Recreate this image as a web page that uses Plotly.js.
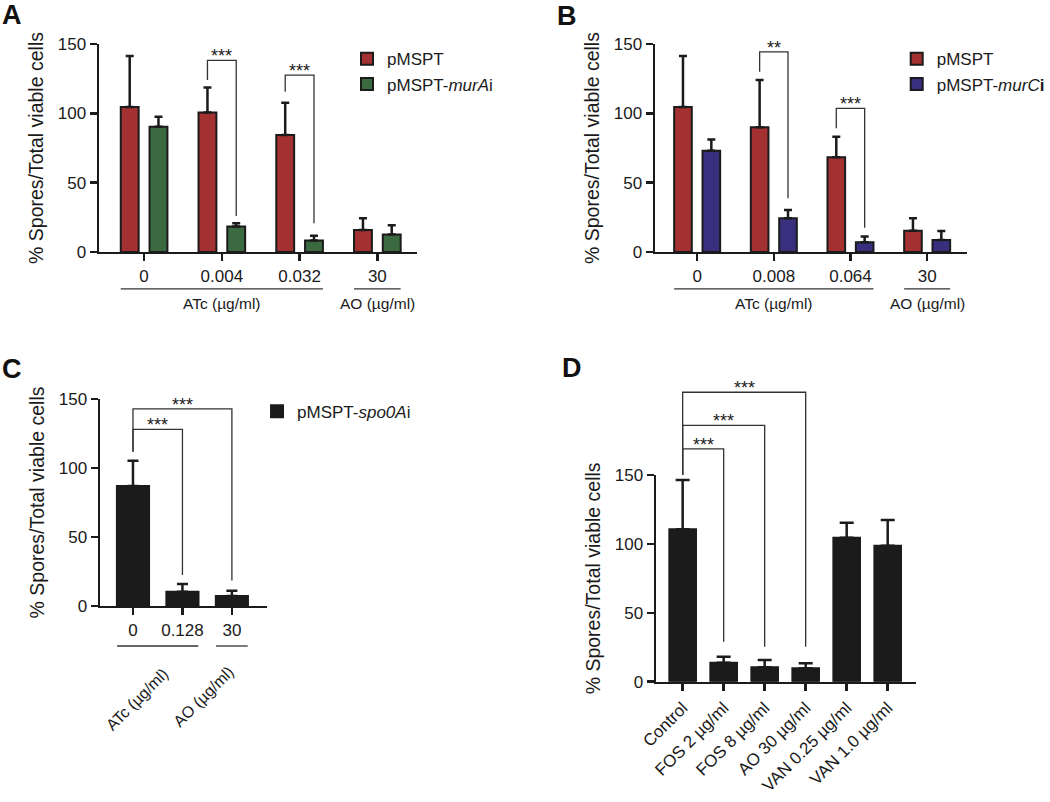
<!DOCTYPE html>
<html>
<head>
<meta charset="utf-8">
<script src="https://cdn.plot.ly/plotly-3.0.1.min.js"></script>
<style>body{margin:0;background:#fff}</style>
</head>
<body>
<div id="chart" style="width:1050px;height:802px"></div>
<script>
// ---- data ----
// A: pMSPT vs pMSPT-murAi
const aTicks = ["0", "0.004", "0.032", "30"];
const aRed = [104.5, 100.7, 84.4, 15.9];
const aRedSd = [36.8, 18.0, 23.3, 8.4];
const aGreen = [90.4, 18.3, 8.2, 12.7];
const aGreenSd = [7.2, 2.4, 3.6, 6.5];
// [group, top, left leg bottom, right leg bottom, label]
const aSig = [[1, 138.2, 124, 26, "***"], [2, 127.6, 115.6, 20.7, "***"]];

// B: pMSPT vs pMSPT-murCi
const bTicks = ["0", "0.008", "0.064", "30"];
const bRed = [104.5, 89.9, 68.3, 15.4];
const bRedSd = [36.8, 34.1, 14.8, 8.9];
const bBlue = [73.0, 24.3, 7.0, 8.7];
const bBlueSd = [8.2, 6.0, 4.1, 6.4];
const bSig = [[1, 144.4, 130, 38.7, "**"], [2, 103.6, 89.2, 17.5, "***"]];

// C: pMSPT-spo0Ai
const cTicks = ["0", "0.128", "30"];
const cVals = [87.0, 10.4, 7.2];
const cSd = [18.3, 5.5, 3.9];
// [from, to, top, left leg bottom, right leg bottom, label]
const cSig = [[0, 1, 128, 111.8, 22.5, "***"], [0, 2, 142.8, 111.8, 18.4, "***"]];

// D: antibiotics
const dTicks = ["Control", "FOS 2 µg/ml", "FOS 8 µg/ml", "AO 30 µg/ml", "VAN 0.25 µg/ml", "VAN 1.0 µg/ml"];
const dVals = [110.6, 13.8, 10.4, 9.7, 104.5, 98.7];
const dSd = [35.8, 4.3, 5.3, 3.6, 10.9, 18.6];
const dSig = [[0, 1, 168.9, 150, 29, "***"], [0, 2, 186, 150, 25.4, "***"], [0, 3, 210, 150, 25.4, "***"]];

// ---- style ----
const RED = "#a33131";
const GREEN = "#3b6a41";
const BLUE = "#392f7f";
const BLACK = "#1b1b1b";
const INK = "#1a1a1a";
const FONT = "Liberation Sans, Arial, sans-serif";
const OFF = 0.185, BW = 0.23;
const YTITLE = "% Spores/Total viable cells";

function idx(arr) { return arr.map((_, i) => i); }
function zeros(arr) { return arr.map(() => 0); }

function barTrace(xa, ya, vals, sd, color, name, offset, width, legend) {
    const t = {
        type: "bar", x: idx(vals), y: vals, name: name,
        xaxis: xa, yaxis: ya,
        marker: { color: color, line: { color: BLACK, width: 2 } },
        error_y: { type: "data", symmetric: false, array: sd, arrayminus: zeros(sd),
                   color: BLACK, thickness: 2.5, width: 4 },
        hoverinfo: "skip"
    };
    if (offset !== null) { t.offset = offset; t.width = width; }
    if (legend) { t.legend = legend; } else { t.showlegend = false; }
    return t;
}

function bracketTrace(xa, ya, x0, x1, top, lb, rb) {
    return {
        type: "scatter", mode: "lines", x: [x0, x0, x1, x1], y: [lb, top, top, rb],
        xaxis: xa, yaxis: ya, line: { color: "#333", width: 1.3 },
        showlegend: false, hoverinfo: "skip"
    };
}

const traces = [
    barTrace("x", "y", aRed, aRedSd, RED, "pMSPT", -OFF - BW / 2, BW, "legend"),
    barTrace("x", "y", aGreen, aGreenSd, GREEN, "pMSPT-<i>murA</i>i", OFF - BW / 2, BW, "legend"),
    barTrace("x2", "y2", bRed, bRedSd, RED, "pMSPT", -OFF - BW / 2, BW, "legend2"),
    barTrace("x2", "y2", bBlue, bBlueSd, BLUE, "pMSPT-<i>murC</i><b>i</b>", OFF - BW / 2, BW, "legend2"),
    barTrace("x3", "y3", cVals, cSd, BLACK, "pMSPT-<i>spo0A</i>i", null, null, "legend3"),
    barTrace("x4", "y4", dVals, dSd, BLACK, "D", null, null, null)
];
traces[4].error_y.width = 5.5;
traces[5].error_y.width = 7;

const annotations = [];
function star(xa, ya, x, y, text) {
    annotations.push({ xref: xa, yref: ya, x: x, y: y, text: text, showarrow: false,
        yanchor: "bottom", yshift: -8, font: { size: 18, color: INK } });
}
aSig.forEach(s => { traces.push(bracketTrace("x", "y", s[0] - OFF, s[0] + OFF, s[1], s[2], s[3])); star("x", "y", s[0], s[1], s[4]); });
bSig.forEach(s => { traces.push(bracketTrace("x2", "y2", s[0] - OFF, s[0] + OFF, s[1], s[2], s[3])); star("x2", "y2", s[0], s[1], s[4]); });
cSig.forEach(s => { traces.push(bracketTrace("x3", "y3", s[0], s[1], s[2], s[3], s[4])); star("x3", "y3", (s[0] + s[1]) / 2, s[2], s[5]); });
dSig.forEach(s => { traces.push(bracketTrace("x4", "y5", s[0], s[1], s[2], s[3], s[4])); star("x4", "y5", (s[0] + s[1]) / 2, s[2], s[5]); });

// group labels under the x axes
function groupLabel(xa, x, y, text, angle) {
    annotations.push({ xref: xa, yref: "paper", x: x, y: y, text: text, showarrow: false,
        xanchor: "center", yanchor: "middle",
        textangle: angle || 0, font: { size: angle ? 16 : 15.5, color: INK } });
}
groupLabel("x", 1, 0.621, "ATc (µg/ml)");
groupLabel("x", 3, 0.621, "AO (µg/ml)");
groupLabel("x2", 1, 0.621, "ATc (µg/ml)");
groupLabel("x2", 3, 0.621, "AO (µg/ml)");
groupLabel("x3", 0.08, 0.128, "ATc (µg/ml)", -45);
groupLabel("x3", 1.43, 0.131, "AO (µg/ml)", -45);

// panel letters
[["A", 0.0, 0.981], ["B", 0.5286, 0.980], ["C", 0.0, 0.540], ["D", 0.5333, 0.541]].forEach(p => {
    annotations.push({ xref: "paper", yref: "paper", x: p[1], y: p[2], xanchor: "left", yanchor: "middle",
        text: "<b>" + p[0] + "</b>", showarrow: false, font: { size: 27, color: "#111" } });
});

const shapes = [];
function underline(xa, x0, x1, y) {
    shapes.push({ type: "line", xref: xa, yref: "paper", x0: x0, x1: x1, y0: y, y1: y,
        line: { color: "#333", width: 1.3 } });
}
underline("x", -0.3, 2.3, 0.6397);
underline("x", 2.7, 3.3, 0.6397);
underline("x2", -0.3, 2.3, 0.6397);
underline("x2", 2.7, 3.3, 0.6397);
underline("x3", -0.32, 1.32, 0.1945);
underline("x3", 1.68, 2.32, 0.1945);

function xAxis(domain, range, ticks, anchor, angle) {
    return {
        domain: domain, range: range, anchor: anchor,
        tickvals: idx(ticks), ticktext: ticks, tickangle: angle || 0,
        showline: true, linewidth: 2.5, linecolor: BLACK,
        ticks: "outside", ticklen: 7, tickwidth: 2.5, tickcolor: BLACK,
        showgrid: false, zeroline: false, fixedrange: true,
        tickfont: { size: 17, color: INK }
    };
}
function yAxis(domain, anchor) {
    return {
        domain: domain, range: [0, 150], anchor: anchor,
        tickvals: [0, 50, 100, 150],
        showline: true, linewidth: 2.5, linecolor: BLACK,
        ticks: "outside", ticklen: 7, tickwidth: 2.5, tickcolor: BLACK,
        showgrid: false, zeroline: false, fixedrange: true,
        tickfont: { size: 17, color: INK },
        title: { text: YTITLE, standoff: 9, font: { size: 19.5, color: INK } }
    };
}

function legendBox(x, y) {
    return { x: x, y: y, xanchor: "left", yanchor: "top", bgcolor: "rgba(0,0,0,0)",
        font: { size: 17, color: INK }, itemclick: false, itemdoubleclick: false };
}

const layout = {
    width: 1050, height: 802,
    margin: { l: 0, r: 0, t: 0, b: 0 },
    paper_bgcolor: "#fff", plot_bgcolor: "rgba(0,0,0,0)",
    font: { family: FONT, color: INK },
    barmode: "group", bargap: 0.35,
    xaxis: xAxis([99 / 1050, 417 / 1050], [-0.58, 3.51], aTicks, "y"),
    yaxis: yAxis([0.6858, 0.9451], "x"),
    xaxis2: xAxis([655 / 1050, 967 / 1050], [-0.55, 3.52], bTicks, "y2"),
    yaxis2: yAxis([0.6858, 0.9451], "x2"),
    xaxis3: xAxis([100 / 1050, 267 / 1050], [-0.667, 2.71], cTicks, "y3"),
    yaxis3: yAxis([0.2444, 0.5025], "x3"),
    xaxis4: xAxis([656 / 1050, 916 / 1050], [-0.65, 5.69], dTicks, "y4", -45),
    yaxis4: yAxis([0.15, 0.4077], "x4"),
    // taller hidden axis for the brackets above panel D
    yaxis5: { domain: [0.15, 0.5195], range: [0, 215], anchor: "x4", visible: false, fixedrange: true },
    legend: legendBox(0.3305, 0.9485),
    legend2: legendBox(0.854, 0.9485),
    legend3: legendBox(0.2448, 0.509),
    shapes: shapes,
    annotations: annotations
};

Plotly.newPlot("chart", traces, layout, { displayModeBar: false, staticPlot: true });
</script>
</body>
</html>
